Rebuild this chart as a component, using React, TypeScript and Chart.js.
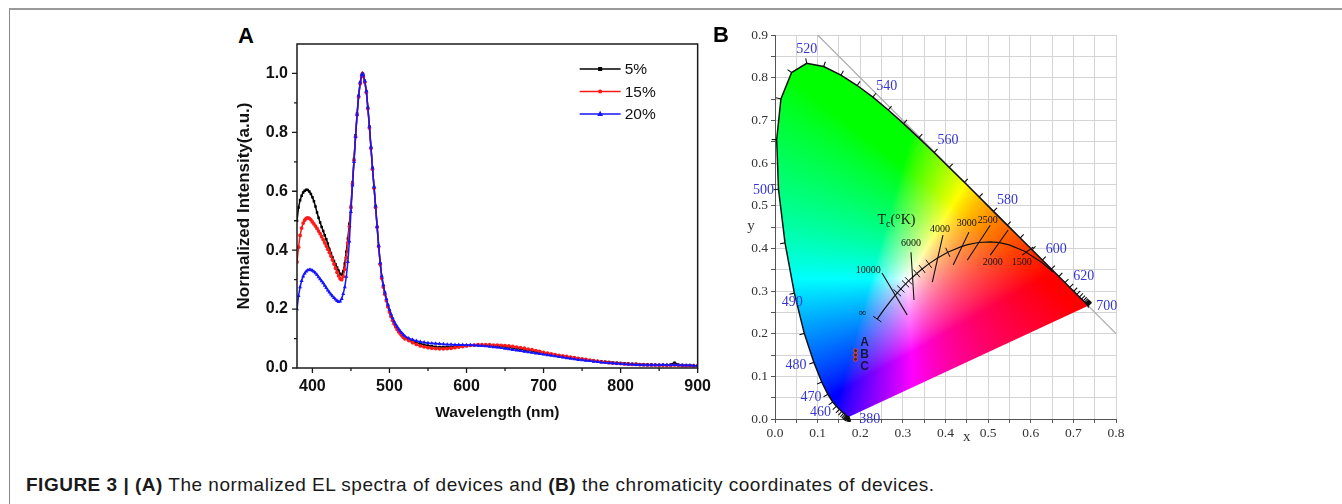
import React, { useEffect, useRef } from "react";
import { Chart, registerables } from "chart.js";

Chart.register(...registerables);

const SANS = "'Liberation Sans', Arial, sans-serif";
const SERIF = "'Liberation Serif', 'Times New Roman', serif";

// ---------------- Panel A data ----------------
const WAVELENGTH_NM = [
  380, 382, 384, 386, 388, 390, 392, 394, 396, 398,
  400, 402, 404, 406, 408, 410, 412, 414, 416, 418,
  420, 422, 424, 426, 428, 430, 432, 434, 436, 438,
  440, 442, 444, 446, 448,
  450, 452, 454, 456, 458, 460, 462, 464, 465, 466,
  468, 470, 472, 474, 476, 478, 480, 482, 484, 486,
  488, 490, 492, 494, 496, 498, 500, 502, 504, 506,
  508, 510, 512, 514, 516, 518, 520,
  525, 530, 535, 540, 545, 550, 555, 560, 565, 570,
  575, 580, 585, 590, 595, 600, 605, 610, 615, 620,
  625, 630, 635, 640, 645, 650, 655, 660, 665, 670,
  675, 680, 685, 690, 695, 700, 705, 710, 715, 720,
  725, 730, 735, 740, 745, 750, 755, 760, 765, 770,
  775, 780, 785, 790, 795, 800, 805, 810, 815, 820,
  825, 830, 835, 840, 845, 850, 855, 860, 865, 870,
  875, 880, 885, 890, 895, 900,
];

const INTENSITY_5 = [
  0.5, 0.545, 0.57, 0.585, 0.596, 0.602, 0.605, 0.604, 0.599, 0.591,
  0.58, 0.566, 0.548, 0.528, 0.51, 0.494, 0.479, 0.465, 0.451, 0.437,
  0.423, 0.404, 0.39, 0.376, 0.363, 0.352, 0.341, 0.33, 0.32, 0.316,
  0.328, 0.355, 0.395, 0.44, 0.49,
  0.55, 0.63, 0.71, 0.79, 0.865, 0.925, 0.97, 0.995, 1.0, 0.995,
  0.975, 0.94, 0.885, 0.82, 0.75, 0.68, 0.615, 0.55, 0.48, 0.415,
  0.355, 0.31, 0.28, 0.255, 0.232, 0.212, 0.195, 0.179, 0.166, 0.154,
  0.144, 0.136, 0.128, 0.121, 0.115, 0.109, 0.104,
  0.097, 0.091, 0.086, 0.082, 0.079, 0.076, 0.074, 0.072, 0.071, 0.071,
  0.071, 0.072, 0.073, 0.074, 0.075, 0.076, 0.077, 0.077, 0.077, 0.077,
  0.076, 0.076, 0.075, 0.074, 0.073, 0.072, 0.07, 0.068, 0.066, 0.064,
  0.062, 0.06, 0.058, 0.055, 0.053, 0.05, 0.048, 0.046, 0.044, 0.042,
  0.04, 0.038, 0.036, 0.034, 0.032, 0.03, 0.028, 0.026, 0.025, 0.023,
  0.022, 0.021, 0.02, 0.019, 0.018, 0.017, 0.016, 0.015, 0.014, 0.014,
  0.013, 0.013, 0.012, 0.012, 0.011, 0.011, 0.011, 0.01, 0.012, 0.018,
  0.011, 0.01, 0.009, 0.009, 0.008, 0.008,
];

const INTENSITY_15 = [
  0.36, 0.41, 0.45, 0.475, 0.492, 0.502, 0.508, 0.51, 0.508, 0.503,
  0.496, 0.489, 0.482, 0.474, 0.465, 0.456, 0.446, 0.436, 0.425, 0.414,
  0.403, 0.392, 0.38, 0.367, 0.353, 0.339, 0.325, 0.313, 0.303, 0.3,
  0.31, 0.335, 0.375, 0.425, 0.48,
  0.545, 0.625, 0.705, 0.785, 0.86, 0.92, 0.965, 0.99, 1.0, 0.99,
  0.97, 0.935, 0.88, 0.815, 0.745, 0.675, 0.61, 0.545, 0.478, 0.412,
  0.352, 0.305, 0.275, 0.25, 0.228, 0.208, 0.19, 0.175, 0.162, 0.15,
  0.14, 0.131, 0.123, 0.116, 0.11, 0.104, 0.099,
  0.093, 0.086, 0.08, 0.075, 0.072, 0.069, 0.067, 0.066, 0.065, 0.065,
  0.066, 0.067, 0.069, 0.071, 0.073, 0.075, 0.077, 0.078, 0.079, 0.079,
  0.079, 0.079, 0.078, 0.078, 0.077, 0.076, 0.075, 0.073, 0.071, 0.069,
  0.067, 0.064, 0.062, 0.059, 0.056, 0.053, 0.05, 0.048, 0.045, 0.043,
  0.041, 0.039, 0.037, 0.035, 0.033, 0.031, 0.029, 0.027, 0.025, 0.023,
  0.021, 0.02, 0.018, 0.017, 0.016, 0.015, 0.014, 0.013, 0.012, 0.012,
  0.011, 0.011, 0.01, 0.01, 0.01, 0.009, 0.009, 0.009, 0.009, 0.01,
  0.009, 0.008, 0.008, 0.008, 0.007, 0.007,
];

const INTENSITY_20 = [
  0.2, 0.245, 0.275, 0.296, 0.311, 0.321, 0.328, 0.332, 0.333, 0.333,
  0.331, 0.327, 0.322, 0.316, 0.309, 0.302, 0.295, 0.288, 0.28, 0.272,
  0.264, 0.257, 0.25, 0.244, 0.238, 0.233, 0.228, 0.225, 0.226, 0.235,
  0.252, 0.275, 0.31, 0.36, 0.43,
  0.53, 0.62, 0.7, 0.785, 0.86, 0.925, 0.97, 0.995, 1.0, 0.995,
  0.975, 0.94, 0.885, 0.82, 0.75, 0.68, 0.615, 0.55, 0.48, 0.415,
  0.357, 0.312, 0.282, 0.257, 0.235, 0.215, 0.198, 0.183, 0.17, 0.158,
  0.148, 0.14, 0.132, 0.125, 0.119, 0.113, 0.108,
  0.101, 0.096, 0.092, 0.089, 0.087, 0.085, 0.084, 0.083, 0.082, 0.081,
  0.08, 0.08, 0.079, 0.079, 0.079, 0.078, 0.078, 0.077, 0.076, 0.075,
  0.074, 0.073, 0.071, 0.07, 0.068, 0.066, 0.064, 0.062, 0.06, 0.058,
  0.056, 0.054, 0.052, 0.05, 0.048, 0.046, 0.044, 0.042, 0.04, 0.038,
  0.036, 0.034, 0.032, 0.03, 0.028, 0.027, 0.025, 0.024, 0.022, 0.021,
  0.019, 0.018, 0.017, 0.016, 0.015, 0.014, 0.013, 0.012, 0.012, 0.011,
  0.011, 0.01, 0.01, 0.01, 0.01, 0.01, 0.011, 0.01, 0.01, 0.011,
  0.01, 0.009, 0.009, 0.009, 0.008, 0.008,
];

const SERIES_LABELS = ["5%", "15%", "20%"];
const A_X_TICKS = [400, 500, 600, 700, 800, 900];
const A_X_MINOR = [450, 550, 650, 750, 850];
const A_Y_TICKS = [0, 0.2, 0.4, 0.6, 0.8, 1.0];
const A_Y_MINOR = [0.1, 0.3, 0.5, 0.7, 0.9];

// ---------------- Panel B data ----------------
const SPECTRAL_NM = [
  380, 385, 390, 395, 400, 405, 410, 415, 420, 425, 430, 435, 440, 445, 450,
  455, 460, 465, 470, 475, 480, 485, 490, 495, 500, 505, 510, 515, 520, 525,
  530, 535, 540, 545, 550, 555, 560, 565, 570, 575, 580, 585, 590, 595, 600,
  605, 610, 615, 620, 625, 630, 635, 640, 645, 650, 655, 660, 665, 670, 675,
  680, 685, 690, 695, 700,
];
const SPECTRAL_X = [
  0.1741, 0.174, 0.1738, 0.1736, 0.1733, 0.173, 0.1726, 0.1721, 0.1714, 0.1703, 0.1689, 0.1669, 0.1644, 0.1611, 0.1566,
  0.151, 0.144, 0.1355, 0.1241, 0.1096, 0.0913, 0.0687, 0.0454, 0.0235, 0.0082, 0.0039, 0.0139, 0.0389, 0.0743, 0.1142,
  0.1547, 0.1929, 0.2296, 0.2658, 0.3016, 0.3373, 0.3731, 0.4087, 0.4441, 0.4788, 0.5125, 0.5448, 0.5752, 0.6029, 0.627,
  0.6482, 0.6658, 0.6801, 0.6915, 0.7006, 0.7079, 0.714, 0.719, 0.723, 0.726, 0.7283, 0.73, 0.7311, 0.732, 0.7327,
  0.7334, 0.734, 0.7344, 0.7346, 0.7347,
];
const SPECTRAL_Y = [
  0.005, 0.005, 0.0049, 0.0049, 0.0048, 0.0048, 0.0048, 0.0048, 0.0051, 0.0058, 0.0069, 0.0086, 0.0109, 0.0138, 0.0177,
  0.0227, 0.0297, 0.0399, 0.0578, 0.0868, 0.1327, 0.2007, 0.295, 0.4127, 0.5384, 0.6548, 0.7502, 0.812, 0.8338, 0.8262,
  0.8059, 0.7816, 0.7543, 0.7243, 0.6923, 0.6589, 0.6245, 0.5896, 0.5547, 0.5202, 0.4866, 0.4544, 0.4242, 0.3965, 0.3725,
  0.3514, 0.334, 0.3197, 0.3083, 0.2993, 0.292, 0.2859, 0.2809, 0.277, 0.274, 0.2717, 0.27, 0.2689, 0.268, 0.2673,
  0.2666, 0.266, 0.2656, 0.2654, 0.2653,
];
const SPECTRAL_LABELLED = [380, 460, 470, 480, 490, 500, 520, 540, 560, 580, 600, 620, 700];

const PLANCK_T = [
  Infinity, 30000, 20000, 15000, 12000, 10000, 9000, 8000, 7000, 6500, 6000, 5500, 5000,
  4500, 4000, 3500, 3000, 2800, 2500, 2200, 2000, 1800, 1500, 1200, 1000,
];
const PLANCK_X = [
  0.2399, 0.2501, 0.2565, 0.2637, 0.2719, 0.2807, 0.2869, 0.2952, 0.3064, 0.3135, 0.3221, 0.3325, 0.3451,
  0.3608, 0.3805, 0.4053, 0.4369, 0.4523, 0.477, 0.5056, 0.5267, 0.5494, 0.5857, 0.6251, 0.6528,
];
const PLANCK_Y = [
  0.2341, 0.2489, 0.2577, 0.2671, 0.2776, 0.2884, 0.2956, 0.3048, 0.3166, 0.3237, 0.3318, 0.3411, 0.3516,
  0.3636, 0.3768, 0.3907, 0.4041, 0.4086, 0.4137, 0.4152, 0.4133, 0.4081, 0.3931, 0.3674, 0.3444,
];
const PLANCK_HASH_T = [9000, 8000, 7000, 6500, 5500, 5000, 4500, 3500];

const ISO_T = ["10000", "6000", "4000", "3000", "2500", "2000", "1500"];
const ISO_X1 = [0.251, 0.319, 0.394, 0.455, 0.505, 0.547, 0.606];
const ISO_Y1 = [0.342, 0.391, 0.431, 0.438, 0.454, 0.443, 0.403];
const ISO_X2 = [0.31, 0.326, 0.369, 0.418, 0.451, 0.505, 0.58];
const ISO_Y2 = [0.244, 0.279, 0.321, 0.361, 0.372, 0.384, 0.384];
const ISO_LABEL_X = [0.219, 0.319, 0.387, 0.45, 0.499, 0.511, 0.579];
const ISO_LABEL_Y = [0.349, 0.412, 0.445, 0.459, 0.465, 0.366, 0.366];

const DEVICE_LABELS = ["A", "B", "C"];
const DEVICE_X = [0.189, 0.189, 0.189];
const DEVICE_Y = [0.16, 0.15, 0.14];

const B_GRID_X = [0, 0.05, 0.1, 0.15, 0.2, 0.25, 0.3, 0.35, 0.4, 0.45, 0.5, 0.55, 0.6, 0.65, 0.7, 0.75, 0.8];
const B_GRID_Y = [0, 0.05, 0.1, 0.15, 0.2, 0.25, 0.3, 0.35, 0.4, 0.45, 0.5, 0.55, 0.6, 0.65, 0.7, 0.75, 0.8, 0.85, 0.9];

// ---------------- styles (not data) ----------------
const SERIES_STYLE = [
  { color: "#000000", pointStyle: "rect", radius: 1.8, order: 2 },
  { color: "#ff1a1a", pointStyle: "circle", radius: 1.9, order: 1 },
  { color: "#1515ff", pointStyle: "triangle", radius: 2.3, order: 0 },
];
const SPECTRAL_LABEL_OFFSET: Record<number, [number, number, CanvasTextAlign]> = {
  380: [10, 2, "left"],
  460: [-16, 6, "center"],
  470: [-17, 3, "center"],
  480: [-18, 3, "center"],
  490: [-2, 9, "center"],
  500: [-15, 1, "center"],
  520: [0, -14, "center"],
  540: [14, -11, "center"],
  560: [14, -12, "center"],
  580: [14, -11, "center"],
  600: [14, -11, "center"],
  620: [14, -11, "center"],
  700: [8, 1, "left"],
};
const DEVICE_LABEL_OFFSET = [
  [9, -8],
  [9, 0],
  [9, 7],
];

function drawMarker(ctx: CanvasRenderingContext2D, style: string, x: number, y: number, r: number) {
  ctx.beginPath();
  if (style === "rect") {
    ctx.rect(x - r, y - r, 2 * r, 2 * r);
  } else if (style === "triangle") {
    ctx.moveTo(x, y - r * 1.3);
    ctx.lineTo(x + r * 1.15, y + r * 0.8);
    ctx.lineTo(x - r * 1.15, y + r * 0.8);
    ctx.closePath();
  } else {
    ctx.arc(x, y, r, 0, Math.PI * 2);
  }
  ctx.fill();
}

const frameAPlugin = {
  id: "frameA",
  afterDatasetsDraw(chart: any) {
    const { ctx, chartArea: a, scales } = chart;
    const xs = scales.x;
    const ys = scales.y;
    ctx.save();
    ctx.strokeStyle = "#1a1a1a";
    ctx.lineWidth = 1.5;
    ctx.strokeRect(a.left, a.top, a.right - a.left, a.bottom - a.top);
    ctx.lineWidth = 1.3;
    ctx.beginPath();
    A_X_TICKS.forEach((v) => {
      const p = xs.getPixelForValue(v);
      ctx.moveTo(p, a.bottom);
      ctx.lineTo(p, a.bottom + 5);
    });
    A_X_MINOR.forEach((v) => {
      const p = xs.getPixelForValue(v);
      ctx.moveTo(p, a.bottom);
      ctx.lineTo(p, a.bottom + 3);
    });
    A_Y_TICKS.forEach((v) => {
      const p = ys.getPixelForValue(v);
      ctx.moveTo(a.left, p);
      ctx.lineTo(a.left - 5, p);
    });
    A_Y_MINOR.forEach((v) => {
      const p = ys.getPixelForValue(v);
      ctx.moveTo(a.left, p);
      ctx.lineTo(a.left - 3, p);
    });
    ctx.stroke();

    // legend
    const lx0 = a.right - 118;
    const lx1 = a.right - 77;
    chart.data.datasets.forEach((ds: any, i: number) => {
      const y = a.top + 25 + i * 22.5;
      const st = SERIES_STYLE[i];
      ctx.strokeStyle = st.color;
      ctx.fillStyle = st.color;
      ctx.lineWidth = 1.4;
      ctx.beginPath();
      ctx.moveTo(lx0, y);
      ctx.lineTo(lx1, y);
      ctx.stroke();
      drawMarker(ctx, st.pointStyle, (lx0 + lx1) / 2, y, st.radius + 0.2);
      ctx.fillStyle = "#111";
      ctx.font = `15.5px ${SANS}`;
      ctx.textAlign = "left";
      ctx.textBaseline = "middle";
      ctx.fillText(ds.label, lx1 + 4, y + 1);
    });
    ctx.restore();
  },
};

function PanelA() {
  const ref = useRef<HTMLCanvasElement>(null);
  useEffect(() => {
    const canvas = ref.current;
    if (!canvas) return;
    const seriesValues = [INTENSITY_5, INTENSITY_15, INTENSITY_20];
    const chart = new Chart(canvas, {
      type: "line",
      data: {
        datasets: SERIES_LABELS.map((label, i) => ({
          label,
          data: WAVELENGTH_NM.map((w, k) => ({ x: w, y: seriesValues[i][k] })),
          borderColor: SERIES_STYLE[i].color,
          backgroundColor: SERIES_STYLE[i].color,
          borderWidth: 1.5,
          pointStyle: SERIES_STYLE[i].pointStyle as any,
          pointRadius: SERIES_STYLE[i].radius,
          pointBorderWidth: 0,
          pointBackgroundColor: SERIES_STYLE[i].color,
          order: SERIES_STYLE[i].order,
          tension: 0,
          fill: false,
        })),
      },
      plugins: [frameAPlugin],
      options: {
        responsive: false,
        animation: false,
        events: [],
        layout: { padding: { top: 24, right: 20, left: 0, bottom: 0 } },
        plugins: { legend: { display: false }, tooltip: { enabled: false } },
        scales: {
          x: {
            type: "linear",
            min: 380,
            max: 900,
            afterBuildTicks: (axis: any) => {
              axis.ticks = A_X_TICKS.map((v) => ({ value: v }));
            },
            afterFit: (axis: any) => {
              axis.height = 62;
            },
            grid: { display: false, drawTicks: false },
            border: { display: false },
            ticks: {
              autoSkip: false,
              maxRotation: 0,
              padding: 9,
              color: "#111",
              font: { family: SANS, size: 16, weight: "bold" },
              callback: (v: any) => String(v),
            },
            title: {
              display: true,
              text: "Wavelength (nm)",
              color: "#111",
              font: { family: SANS, size: 15.5, weight: "bold" },
              padding: { top: 0, bottom: 8 },
            },
          },
          y: {
            type: "linear",
            min: 0,
            max: 1.1,
            afterBuildTicks: (axis: any) => {
              axis.ticks = A_Y_TICKS.map((v) => ({ value: v }));
            },
            afterFit: (axis: any) => {
              axis.width = 97;
            },
            grid: { display: false, drawTicks: false },
            border: { display: false },
            ticks: {
              autoSkip: false,
              padding: 9,
              color: "#111",
              font: { family: SANS, size: 16, weight: "bold" },
              callback: (v: any) => Number(v).toFixed(1),
            },
            title: {
              display: true,
              text: "Normalized Intensity(a.u.)",
              color: "#111",
              font: { family: SANS, size: 17, weight: "bold" },
              padding: { top: 34, bottom: 0 },
            },
          },
        },
      },
    } as any);
    return () => chart.destroy();
  }, []);
  return (
    <canvas
      ref={ref}
      width={520}
      height={410}
      style={{ position: "absolute", left: 200, top: 20, width: 520, height: 410 }}
    />
  );
}

function gammaEncode(c: number) {
  return c <= 0.0031308 ? 12.92 * c : 1.055 * Math.pow(c, 1 / 2.4) - 0.055;
}

const cieFillPlugin = {
  id: "cieFill",
  beforeDatasetsDraw(chart: any) {
    const { ctx, chartArea: a, scales } = chart;
    const xs = scales.x;
    const ys = scales.y;
    const w = Math.ceil(a.right - a.left);
    const h = Math.ceil(a.bottom - a.top);
    const off = document.createElement("canvas");
    off.width = w;
    off.height = h;
    const octx = off.getContext("2d");
    if (!octx) return;
    const img = octx.createImageData(w, h);
    const d = img.data;
    const SAT = 1.6;
    for (let j = 0; j < h; j++) {
      const yv = ys.getValueForPixel(a.top + j + 0.5);
      for (let i = 0; i < w; i++) {
        const xv = xs.getValueForPixel(a.left + i + 0.5);
        const k = (j * w + i) * 4;
        if (yv <= 0.0003) {
          d[k + 3] = 0;
          continue;
        }
        const X = xv / yv;
        const Z = (1 - xv - yv) / yv;
        let r = 3.2406 * X - 1.5372 - 0.4986 * Z;
        let g = -0.9689 * X + 1.8758 + 0.0415 * Z;
        let b = 0.0557 * X - 0.204 + 1.057 * Z;
        r = Math.max(r, 0);
        g = Math.max(g, 0);
        b = Math.max(b, 0);
        const m = Math.max(r, g, b) || 1;
        d[k] = Math.round(gammaEncode(Math.pow(r / m, SAT)) * 255);
        d[k + 1] = Math.round(gammaEncode(Math.pow(g / m, SAT)) * 255);
        d[k + 2] = Math.round(gammaEncode(Math.pow(b / m, SAT)) * 255);
        d[k + 3] = 255;
      }
    }
    octx.putImageData(img, 0, 0);
    ctx.save();
    ctx.beginPath();
    SPECTRAL_X.forEach((x, i) => {
      const px = xs.getPixelForValue(x);
      const py = ys.getPixelForValue(SPECTRAL_Y[i]);
      if (i === 0) ctx.moveTo(px, py);
      else ctx.lineTo(px, py);
    });
    ctx.closePath();
    ctx.clip();
    ctx.drawImage(off, a.left, a.top);
    ctx.restore();
  },
  afterDatasetsDraw(chart: any) {
    const { ctx, chartArea: a, scales } = chart;
    const xs = scales.x;
    const ys = scales.y;
    const P = (x: number, y: number) => [xs.getPixelForValue(x), ys.getPixelForValue(y)];
    ctx.save();

    // spectral locus ticks
    const pts = SPECTRAL_X.map((x, i) => P(x, SPECTRAL_Y[i]));
    const c = P(0.33, 0.33);
    ctx.strokeStyle = "#111";
    ctx.lineWidth = 1.1;
    ctx.beginPath();
    pts.forEach((p, i) => {
      const p0 = pts[Math.max(0, i - 1)];
      const p1 = pts[Math.min(pts.length - 1, i + 1)];
      let tx = p1[0] - p0[0];
      let ty = p1[1] - p0[1];
      const L = Math.hypot(tx, ty) || 1;
      tx /= L;
      ty /= L;
      let nx = ty;
      let ny = -tx;
      if ((p[0] - c[0]) * nx + (p[1] - c[1]) * ny < 0) {
        nx = -nx;
        ny = -ny;
      }
      const len = 5;
      ctx.moveTo(p[0], p[1]);
      ctx.lineTo(p[0] + nx * len, p[1] + ny * len);
    });
    ctx.stroke();

    // spectral labels
    ctx.fillStyle = "#3535d0";
    ctx.font = `14px ${SERIF}`;
    ctx.textBaseline = "middle";
    SPECTRAL_LABELLED.forEach((nm) => {
      const idx = SPECTRAL_NM.indexOf(nm);
      if (idx < 0) return;
      const [dx, dy, align] = SPECTRAL_LABEL_OFFSET[nm];
      ctx.textAlign = align;
      ctx.fillText(String(nm), pts[idx][0] + dx, pts[idx][1] + dy);
    });

    // Planckian locus hashes
    const pp = PLANCK_X.map((x, i) => P(x, PLANCK_Y[i]));
    const normalAt = (i: number) => {
      const p0 = pp[Math.max(0, i - 1)];
      const p1 = pp[Math.min(pp.length - 1, i + 1)];
      const tx = p1[0] - p0[0];
      const ty = p1[1] - p0[1];
      const L = Math.hypot(tx, ty) || 1;
      return [ty / L, -tx / L];
    };
    ctx.strokeStyle = "#111";
    ctx.lineWidth = 1;
    ctx.beginPath();
    PLANCK_HASH_T.forEach((t) => {
      const i = PLANCK_T.indexOf(t);
      if (i < 0) return;
      const [nx, ny] = normalAt(i);
      ctx.moveTo(pp[i][0] - nx * 5, pp[i][1] - ny * 5);
      ctx.lineTo(pp[i][0] + nx * 5, pp[i][1] + ny * 5);
    });
    {
      const [nx, ny] = normalAt(0);
      ctx.moveTo(pp[0][0] - nx * 5, pp[0][1] - ny * 5);
      ctx.lineTo(pp[0][0] + nx * 5, pp[0][1] + ny * 5);
    }
    ctx.stroke();

    // temperature labels
    ctx.fillStyle = "#111";
    ctx.font = `10px ${SERIF}`;
    ctx.textAlign = "center";
    ISO_T.forEach((t, i) => {
      const p = P(ISO_LABEL_X[i], ISO_LABEL_Y[i]);
      ctx.fillText(t, p[0], p[1]);
    });
    {
      const p = P(0.205, 0.248);
      ctx.font = `11px ${SERIF}`;
      ctx.fillText("\u221e", p[0], p[1]);
    }
    // Tc(°K)
    {
      const p = P(0.285, 0.465);
      ctx.font = `14px ${SERIF}`;
      const wT = ctx.measureText("T").width;
      const wK = ctx.measureText("(\u00b0K)").width;
      ctx.font = `10px ${SERIF}`;
      const wc = ctx.measureText("c").width;
      let x0 = p[0] - (wT + wc + wK) / 2;
      ctx.textAlign = "left";
      ctx.font = `14px ${SERIF}`;
      ctx.fillText("T", x0, p[1]);
      x0 += wT;
      ctx.font = `10px ${SERIF}`;
      ctx.fillText("c", x0, p[1] + 4);
      x0 += wc;
      ctx.font = `14px ${SERIF}`;
      ctx.fillText("(\u00b0K)", x0, p[1]);
    }

    // device labels
    ctx.fillStyle = "#15153a";
    ctx.font = `bold 12px ${SANS}`;
    ctx.textAlign = "center";
    DEVICE_LABELS.forEach((lab, i) => {
      const p = P(DEVICE_X[i], DEVICE_Y[i]);
      ctx.fillText(lab, p[0] + DEVICE_LABEL_OFFSET[i][0], p[1] + DEVICE_LABEL_OFFSET[i][1]);
    });

    // axis names
    ctx.fillStyle = "#333";
    ctx.font = `15px ${SERIF}`;
    ctx.textAlign = "center";
    ctx.fillText("x", xs.getPixelForValue(0.45), a.bottom + 18);
    ctx.fillText("y", a.left - 24, ys.getPixelForValue(0.453));
    ctx.restore();
  },
};

function PanelB() {
  const ref = useRef<HTMLCanvasElement>(null);
  useEffect(() => {
    const canvas = ref.current;
    if (!canvas) return;
    const tickLabel = (v: any) => {
      const n = Math.round(Number(v) * 20);
      return n % 2 === 0 ? (n / 20).toFixed(1) : "";
    };
    const line = (data: { x: number; y: number }[], color: string, width: number, order = 0) => ({
      data,
      showLine: true,
      borderColor: color,
      borderWidth: width,
      pointRadius: 0,
      fill: false,
      tension: 0,
      order,
    });
    const datasets: any[] = [
      {
        label: "devices",
        data: DEVICE_X.map((x, i) => ({ x, y: DEVICE_Y[i] })),
        pointRadius: 2,
        pointBackgroundColor: "#3a2a2a",
        pointBorderColor: "#e8403a",
        pointBorderWidth: 1,
        showLine: false,
        order: -1,
      },
      line(
        [
          { x: 0.1, y: 0.9 },
          { x: 0.8, y: 0.2 },
        ],
        "#aaaaaa",
        1.2,
        5
      ),
      line(SPECTRAL_X.map((x, i) => ({ x, y: SPECTRAL_Y[i] })), "#111", 1.5, 1),
      line(PLANCK_X.map((x, i) => ({ x, y: PLANCK_Y[i] })), "#111", 1.2, 1),
      ...ISO_T.map((_, i) =>
        line(
          [
            { x: ISO_X1[i], y: ISO_Y1[i] },
            { x: ISO_X2[i], y: ISO_Y2[i] },
          ],
          "#111",
          1.1,
          1
        )
      ),
    ];
    const chart = new Chart(canvas, {
      type: "scatter",
      data: { datasets },
      plugins: [cieFillPlugin],
      options: {
        responsive: false,
        animation: false,
        events: [],
        layout: { padding: { top: 15, right: 24, left: 0, bottom: 0 } },
        plugins: { legend: { display: false }, tooltip: { enabled: false } },
        scales: {
          x: {
            type: "linear",
            min: 0,
            max: 0.8,
            afterBuildTicks: (axis: any) => {
              axis.ticks = B_GRID_X.map((v) => ({ value: v }));
            },
            afterFit: (axis: any) => {
              axis.height = 31;
            },
            grid: { color: "#d4d4d4", lineWidth: 1, drawTicks: true, tickLength: 4, tickColor: "#555" },
            border: { display: true, color: "#555", width: 1 },
            ticks: {
              autoSkip: false,
              maxRotation: 0,
              padding: 2,
              color: "#333",
              font: { family: SERIF, size: 13.5 },
              callback: tickLabel,
            },
          },
          y: {
            type: "linear",
            min: 0,
            max: 0.9,
            afterBuildTicks: (axis: any) => {
              axis.ticks = B_GRID_Y.map((v) => ({ value: v }));
            },
            afterFit: (axis: any) => {
              axis.width = 55;
            },
            grid: { color: "#d4d4d4", lineWidth: 1, drawTicks: true, tickLength: 4, tickColor: "#555" },
            border: { display: true, color: "#555", width: 1 },
            ticks: {
              autoSkip: false,
              padding: 3,
              color: "#333",
              font: { family: SERIF, size: 13.5 },
              callback: tickLabel,
            },
          },
        },
      },
    } as any);
    return () => chart.destroy();
  }, []);
  return (
    <canvas
      ref={ref}
      width={420}
      height={430}
      style={{ position: "absolute", left: 720, top: 20, width: 420, height: 430 }}
    />
  );
}

export default function App() {
  return (
    <div
      style={{
        position: "absolute",
        left: 0,
        top: 0,
        width: 1342,
        height: 504,
        background: "#ffffff",
        overflow: "hidden",
      }}
    >
      <div
        style={{
          position: "absolute",
          left: 9,
          top: 8,
          right: 0,
          bottom: 0,
          borderTop: "2px solid #9a9a9a",
          borderLeft: "1px solid #888",
        }}
      />
      <div
        style={{
          position: "absolute",
          left: 238,
          top: 23,
          font: `bold 22px ${SANS}`,
          color: "#000",
        }}
      >
        A
      </div>
      <PanelA />
      <div
        style={{
          position: "absolute",
          left: 713,
          top: 22,
          font: `bold 22px ${SANS}`,
          color: "#000",
        }}
      >
        B
      </div>
      <PanelB />
      <div
        style={{
          position: "absolute",
          left: 26,
          top: 474,
          font: `19px ${SANS}`,
          letterSpacing: "0.5px",
          lineHeight: "22px",
          color: "#1a1a1a",
          whiteSpace: "nowrap",
        }}
      >
        <b>FIGURE 3 | (A)</b> The normalized EL spectra of devices and <b>(B)</b> the chromaticity coordinates of
        devices.
      </div>
    </div>
  );
}
